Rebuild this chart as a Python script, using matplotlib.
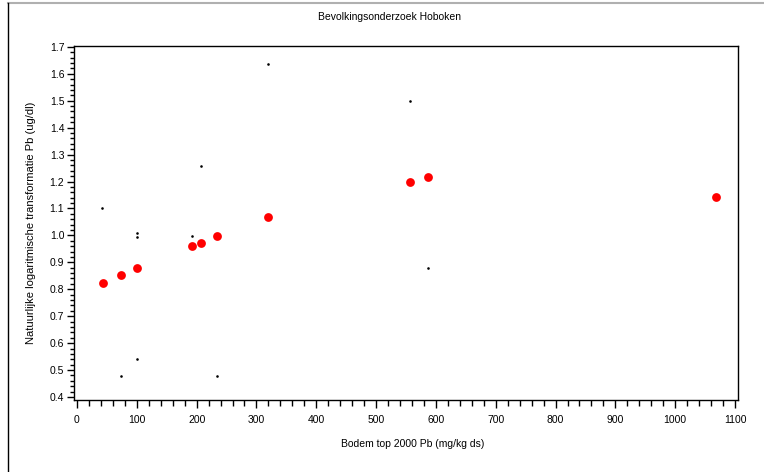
import matplotlib.pyplot as plt
from matplotlib.lines import Line2D
from matplotlib.ticker import MultipleLocator

plt.rcParams['font.family'] = ['Liberation Sans', 'DejaVu Sans']

# individual measurements (small black dots)
bodem_pb = [42, 74, 101, 101, 101, 192, 207, 234, 319, 557, 587]
ln_pb = [1.103, 0.478, 1.009, 0.993, 0.543, 0.996, 1.256, 0.478, 1.637, 1.500, 0.878]

# red points
red_x = [43, 74, 101, 192, 207, 234, 319, 557, 587, 1069]
red_y = [0.823, 0.852, 0.878, 0.960, 0.973, 0.997, 1.069, 1.200, 1.217, 1.143]

fig = plt.figure(figsize=(7.64, 4.72), dpi=100)
ax = fig.add_axes([74/764, 1-400/472, 664/764, 354/472])

ax.scatter(bodem_pb, ln_pb, s=3.5, color='black', marker='o', linewidths=0, zorder=3)
ax.scatter(red_x, red_y, s=40, color='red', linewidths=0, zorder=4)

ax.set_xlim(-5, 1105)
ax.set_ylim(0.389, 1.703)
ax.xaxis.set_major_locator(MultipleLocator(100))
ax.xaxis.set_minor_locator(MultipleLocator(20))
ax.yaxis.set_major_locator(MultipleLocator(0.1))
ax.yaxis.set_minor_locator(MultipleLocator(0.02))
ax.yaxis.set_major_formatter(plt.FuncFormatter(lambda v, p: '%.1f' % v))

ax.tick_params(axis='x', which='major', length=6, width=1, labelsize=7.5, pad=5)
ax.tick_params(axis='x', which='minor', length=4, width=1)
ax.tick_params(axis='y', which='major', length=5, width=1, labelsize=7.5, pad=2)
ax.tick_params(axis='y', which='minor', length=3, width=1)
for s in ax.spines.values():
    s.set_linewidth(1)

ax.set_xlabel('Bodem top 2000 Pb (mg/kg ds)', fontsize=7.5, labelpad=7)
ax.xaxis.set_label_coords((413-74)/664, -(439-400)/354)
ax.set_ylabel('Natuurlijke logaritmische transformatie Pb (ug/dl)', fontsize=8)
ax.yaxis.set_label_coords(-(74-36)/664, 0.5)
fig.text(390/764, 1-17/472, 'Bevolkingsonderzoek Hoboken', ha='center', va='center', fontsize=7.5)

# outer frame lines
fig.add_artist(Line2D([7.5/764, 1], [1-2.5/472, 1-2.5/472], color='#b0b0b0', lw=1.5))
fig.add_artist(Line2D([7.5/764, 7.5/764], [0, 1-2.5/472], color='black', lw=1))

fig.savefig('out.png', dpi=100)
